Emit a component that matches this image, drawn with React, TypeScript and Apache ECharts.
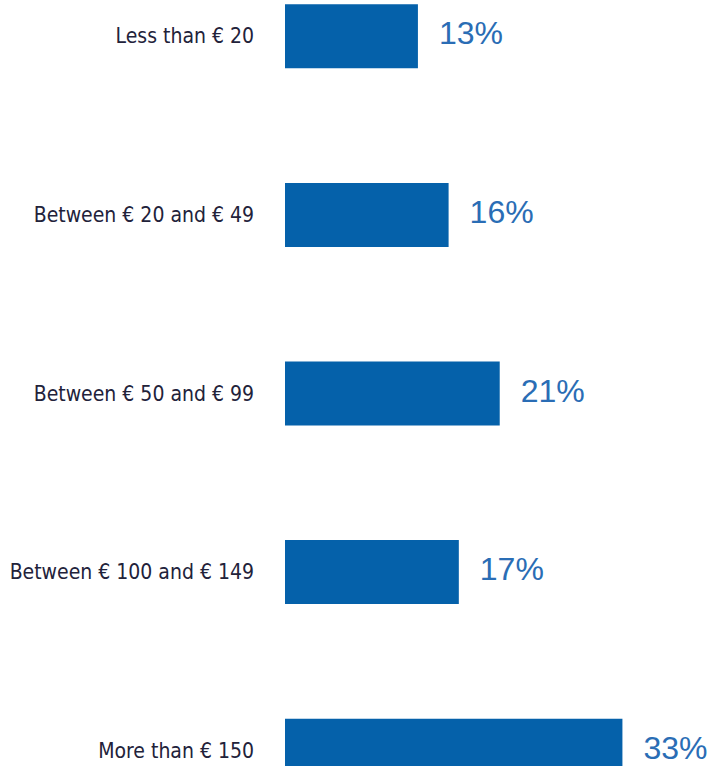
import React, { useEffect, useRef } from "react";
import * as echarts from "echarts";

const categories = [
  "Less than € 20",
  "Between € 20 and € 49",
  "Between € 50 and € 99",
  "Between € 100 and € 149",
  "More than € 150",
];
const values = [13, 16, 21, 17, 33];

export default function App() {
  const ref = useRef<HTMLDivElement>(null);
  useEffect(() => {
    if (!ref.current) return;
    const chart = echarts.init(ref.current, undefined, { renderer: "svg" });
    chart.setOption({
      animation: false,
      backgroundColor: "#ffffff",
      grid: { left: 285, right: 15, top: 0, bottom: 0, containLabel: false },
      xAxis: { type: "value", min: 0, max: 40, show: false },
      yAxis: {
        type: "category",
        inverse: true,
        data: categories,
        axisLine: { show: false },
        axisTick: { show: false },
        axisLabel: {
          margin: 31,
          color: "#22223a",
          fontSize: 21,
          fontFamily: "'Liberation Sans Narrow', 'DejaVu Sans Condensed', sans-serif",
        },
      },
      series: [
        {
          type: "bar",
          data: values,
          barWidth: 64,
          itemStyle: { color: "#0561aa" },
          label: {
            show: true,
            position: "right",
            distance: 21,
            formatter: "{c}%",
            color: "#2a6db5",
            fontSize: 32,
            fontFamily: "'Liberation Sans', Arial, sans-serif",
            offset: [0, -3],
          },
        },
      ],
    });
    return () => chart.dispose();
  }, []);
  return (
    <div
      style={{
        position: "absolute",
        left: 0,
        top: 0,
        width: 709,
        height: 766,
        overflow: "hidden",
        background: "#fff",
      }}
    >
      <div ref={ref} style={{ position: "absolute", left: 0, top: -53, width: 709, height: 893 }} />
    </div>
  );
}
